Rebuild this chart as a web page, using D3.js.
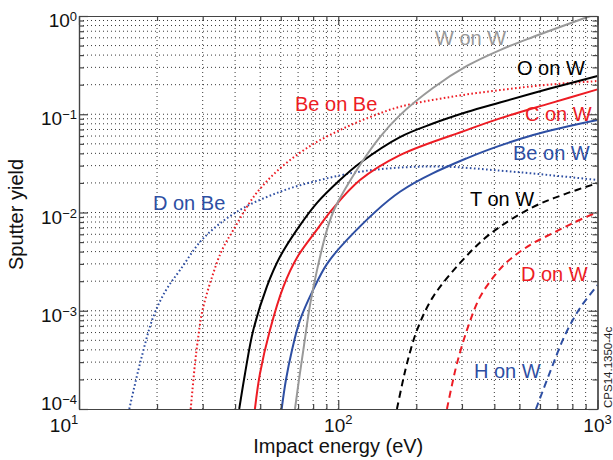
<!DOCTYPE html>
<html>
<head>
<meta charset="utf-8">
<script src="https://cdn.jsdelivr.net/npm/d3@7"></script>
<style>
body { margin: 0; background: #fff; }
text { font-family: "Liberation Sans", Arial, Helvetica, sans-serif; }
</style>
</head>
<body>
<script>
// values (energy in eV, sputter yield)
var wOnW_E = [68.1, 70.5, 73.8, 77.8, 82.8, 90.4, 97.1, 121.3, 144.8, 173, 231.8, 313.5, 420.4, 563.6, 894, 1000]
var wOnW_Y = [1e-4, 1.96e-4, 4.47e-4, 1.14e-3, 2.59e-3, 6.62e-3, 0.0111, 0.0304, 0.0586, 0.098, 0.185, 0.31, 0.45, 0.611, 0.954, 1.06]

var oOnW_E = [41.5, 43.7, 47.0, 53.0, 59.6, 69.1, 82.5, 101.5, 121.3, 173, 231.8, 313.5, 420.4, 655.3, 1000]
var oOnW_Y = [1e-4, 2.3e-4, 6.34e-4, 1.75e-3, 3.54e-3, 6.62e-3, 0.0124, 0.0214, 0.0319, 0.0586, 0.0804, 0.1053, 0.1316, 0.1827, 0.245]

var cOnW_E = [47.7, 49.9, 54.5, 61.4, 69.9, 82.5, 94.3, 121.3, 173, 312.7, 420.4, 655.3, 1000]
var cOnW_Y = [1e-4, 2.3e-4, 6.34e-4, 1.75e-3, 3.6e-3, 6.62e-3, 0.01058, 0.0214, 0.0384, 0.069, 0.0908, 0.129, 0.179]

var beOnW_E = [60.5, 62.8, 66.3, 71.2, 79.9, 90.4, 107.8, 173, 312.7, 564.9, 1000]
var beOnW_Y = [1e-4, 1.96e-4, 3.97e-4, 8.02e-4, 1.62e-3, 2.98e-3, 5.24e-3, 0.01625, 0.0356, 0.0614, 0.0873]

var beOnBe_E = [26.97, 28.02, 28.9, 29.89, 32.58, 35.61, 39.36, 47.72, 59.6, 77.8, 101.5, 132.6, 173, 269.7, 420.4, 655.3, 1000]
var beOnBe_Y = [1e-4, 2.9e-4, 5.64e-4, 9.9e-4, 2.2e-3, 4.14e-3, 6.62e-3, 0.01504, 0.0281, 0.0474, 0.069, 0.0936, 0.1192, 0.1497, 0.1764, 0.2006, 0.2178]

var dOnBe_E = [15.63, 17.19, 19.34, 21.65, 24.52, 30.16, 40.57, 59.6, 85.0, 121.3, 173, 253.4, 420.4, 655.3, 1000]
var dOnBe_Y = [1e-4, 2.9e-4, 8.67e-4, 1.62e-3, 2.59e-3, 5.45e-3, 0.01016, 0.01625, 0.0214, 0.026, 0.02866, 0.02934, 0.0267, 0.024, 0.0214]

var tOnW_E = [168.4, 176.1, 184.1, 201.2, 231.8, 294.6, 384.6, 563.6, 748.6, 1000]
var tOnW_Y = [1e-4, 1.75e-4, 2.9e-4, 6.34e-4, 1.376e-3, 3.05e-3, 6.03e-3, 0.01135, 0.0154, 0.0199]

var dOnW_E = [262.6, 274.5, 287, 313.5, 352, 402.2, 447.3, 548.6, 673, 818, 1000]
var dOnW_Y = [1e-4, 1.75e-4, 2.9e-4, 6.34e-4, 1.376e-3, 2.3e-3, 3.13e-3, 4.66e-3, 6.17e-3, 7.98e-3, 0.0101]

var hOnW_E = [578.8, 661, 748, 855, 1000]
var hOnW_Y = [1e-4, 2.5e-4, 5.6e-4, 1.06e-3, 1.82e-3]

var xMajor = [10, 100, 1000]
var xMajorExp = ['1', '2', '3']
var yMajor = [1e-4, 1e-3, 1e-2, 1e-1, 1]
var yMajorExp = ['\u22124', '\u22123', '\u22122', '\u22121', '0']

var red = '#ed1c24', blue = '#2e4fa3', gray = '#999999', black = '#000'

var series = [
  { e: dOnBe_E, v: dOnBe_Y, color: blue, dash: '1.6,2.4' },
  { e: beOnBe_E, v: beOnBe_Y, color: red, dash: '1.6,2.4' },
  { e: hOnW_E, v: hOnW_Y, color: blue, dash: '7,4.5' },
  { e: dOnW_E, v: dOnW_Y, color: red, dash: '7,4.5' },
  { e: tOnW_E, v: tOnW_Y, color: black, dash: '7,4.5' },
  { e: beOnW_E, v: beOnW_Y, color: blue, dash: null },
  { e: cOnW_E, v: cOnW_Y, color: red, dash: null },
  { e: oOnW_E, v: oOnW_Y, color: black, dash: null },
  { e: wOnW_E, v: wOnW_Y, color: gray, dash: null }
]

var labels = [
  { t: 'W on W', x: 435, y: 45, color: gray },
  { t: 'O on W', x: 517, y: 75, color: black },
  { t: 'Be on Be', x: 295, y: 111, color: red },
  { t: 'C on W', x: 525, y: 121, color: red },
  { t: 'Be on W', x: 513, y: 160, color: blue },
  { t: 'D on Be', x: 153, y: 210, color: blue },
  { t: 'T on W', x: 470, y: 206, color: black },
  { t: 'D on W', x: 521, y: 281, color: red },
  { t: 'H on W', x: 474, y: 378, color: blue }
]

var width = 613, height = 460
var svg = d3.select('body').append('svg')
  .attr('width', width)
  .attr('height', height)

var x = d3.scaleLog().domain([10, 1000]).range([79, 597.5])
var y = d3.scaleLog().domain([1e-4, 1]).range([409, 16])

// minor values for the grid
var xGrid = [], yGrid = []
;[10, 100].forEach(function (k) { for (var i = 1; i < 10; i++) xGrid.push(i * k) })
;[1e-4, 1e-3, 1e-2, 1e-1].forEach(function (k) { for (var i = 1; i < 10; i++) yGrid.push(i * k) })
var xMinor = xGrid.filter(function (d) { return xMajor.indexOf(d) < 0 })
var yMinor = yGrid.filter(function (d, i) { return i % 9 != 0 })

var grid = svg.append('g')
  .attr('stroke', '#222')
  .attr('stroke-width', 0.9)
  .attr('stroke-dasharray', '1,3')
grid.selectAll('.gx').data(xGrid.slice(1)).enter().append('line')
  .attr('x1', function (d) { return x(d) }).attr('x2', function (d) { return x(d) })
  .attr('y1', y(1)).attr('y2', y(1e-4))
grid.selectAll('.gy').data(yGrid.slice(1)).enter().append('line')
  .attr('y1', function (d) { return y(d) }).attr('y2', function (d) { return y(d) })
  .attr('x1', x(10)).attr('x2', x(1000))

svg.append('clipPath').attr('id', 'plot')
  .append('rect')
  .attr('x', x(10)).attr('y', y(1))
  .attr('width', x(1000) - x(10)).attr('height', y(1e-4) - y(1))

var line = d3.line()
  .x(function (d) { return x(d[0]) })
  .y(function (d) { return y(d[1]) })
  .curve(d3.curveCatmullRom.alpha(0.5))

svg.append('g').attr('clip-path', 'url(#plot)')
  .selectAll('path').data(series).enter().append('path')
  .attr('d', function (s) { return line(d3.zip(s.e, s.v)) })
  .attr('fill', 'none')
  .attr('stroke', function (s) { return s.color })
  .attr('stroke-width', 2)
  .attr('stroke-dasharray', function (s) { return s.dash })

// inward ticks on all four sides
function ticks(axis, tr, vals, size) {
  var g = svg.append('g').attr('transform', tr)
    .call(axis.tickValues(vals).tickSize(-size).tickSizeOuter(0).tickFormat(''))
  g.selectAll('path, line').attr('stroke', '#444').attr('stroke-width', 1.2)
}
ticks(d3.axisBottom(x), 'translate(0,' + y(1e-4) + ')', xMajor, 9)
ticks(d3.axisBottom(x), 'translate(0,' + y(1e-4) + ')', xMinor, 5)
ticks(d3.axisTop(x), 'translate(0,' + y(1) + ')', xMajor, 9)
ticks(d3.axisTop(x), 'translate(0,' + y(1) + ')', xMinor, 5)
ticks(d3.axisLeft(y), 'translate(' + x(10) + ',0)', yMajor, 9)
ticks(d3.axisLeft(y), 'translate(' + x(10) + ',0)', yMinor, 5)
ticks(d3.axisRight(y), 'translate(' + x(1000) + ',0)', yMajor, 9)
ticks(d3.axisRight(y), 'translate(' + x(1000) + ',0)', yMinor, 5)

// tick labels as 10^n
xMajor.forEach(function (d, i) {
  var t = svg.append('text')
    .attr('x', i == 0 ? x(d) - 15 : x(d)).attr('y', 432)
    .attr('text-anchor', 'middle')
    .attr('font-size', 19).attr('fill', '#111')
  t.append('tspan').text('10')
  t.append('tspan').attr('font-size', 13).attr('dy', -8).text(xMajorExp[i])
})
yMajor.forEach(function (d, i) {
  var t = svg.append('text')
    .attr('x', 77).attr('y', i == 0 ? y(d) + 1 : y(d) + 11)
    .attr('text-anchor', 'end')
    .attr('font-size', 19).attr('fill', '#111')
  t.append('tspan').text('10')
  t.append('tspan').attr('font-size', 13).attr('dy', -6).text(yMajorExp[i])
})

svg.selectAll('.lab').data(labels).enter().append('text')
  .attr('x', function (d) { return d.x })
  .attr('y', function (d) { return d.y })
  .attr('font-size', 20)
  .attr('fill', function (d) { return d.color })
  .text(function (d) { return d.t })

svg.append('text')
  .attr('x', (x(10) + x(1000)) / 2).attr('y', 453)
  .attr('text-anchor', 'middle')
  .attr('font-size', 20).attr('fill', '#111')
  .text('Impact energy (eV)')

svg.append('text')
  .attr('transform', 'translate(23,' + ((y(1) + y(1e-4)) / 2 + 2) + ') rotate(-90)')
  .attr('text-anchor', 'middle')
  .attr('font-size', 20).attr('fill', '#111')
  .text('Sputter yield')

svg.append('text')
  .attr('transform', 'translate(611.5,408) rotate(-90)')
  .attr('font-size', 11.5).attr('fill', '#222')
  .text('CPS14.1350-4c')
</script>
</body>
</html>
